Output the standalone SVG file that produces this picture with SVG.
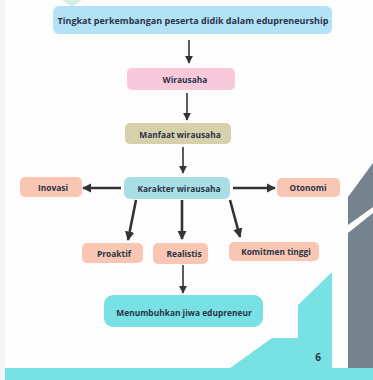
<svg xmlns="http://www.w3.org/2000/svg" width="373" height="380" viewBox="0 0 373 380">
  <style>
    .lbl { font-family: "Open Sans", "Liberation Sans", sans-serif; font-weight: 700; fill: #2b3347; text-anchor: middle; dominant-baseline: central; font-size: 8.4px; }
    .thin { stroke: #333; stroke-width: 1.6; fill: none; }
    .thick { stroke: #333; stroke-width: 2.6; fill: none; }
    .salmon { fill: #f8c6b2; }
  </style>
  <defs>
    <marker id="ah" viewBox="0 0 10 10" refX="9" refY="5" markerWidth="5" markerHeight="5" orient="auto" markerUnits="strokeWidth">
      <path d="M0,0 L10,5 L0,10 Z" fill="#333"/>
    </marker>
    <marker id="ahs" viewBox="0 0 10 10" refX="9" refY="5" markerWidth="3.6" markerHeight="3.6" orient="auto" markerUnits="strokeWidth">
      <path d="M0,0 L10,5 L0,10 Z" fill="#333"/>
    </marker>
  </defs>

  <!-- page background -->
  <rect x="0" y="0" width="373" height="380" fill="#fdfdfd"/>
  <rect x="0" y="0" width="5" height="380" fill="#f4f4f6"/>
  <!-- faint ornament top left -->
  <path d="M62,0 L82,0 L72,7 Z" fill="#d8efe9"/>

  <!-- slide decoration -->
  <polygon points="230,368 272,338 298,338 298,305 332,272 332,368" fill="#78e1e3"/>
  <polygon points="348,197 373,163 373,207 348,225" fill="#76838f"/>
  <polygon points="348,233 373,213 373,368 348,368" fill="#76838f"/>
  <rect x="5" y="368" width="368" height="12" fill="#78e1e3"/>
  <text x="318" y="361" font-family="'Open Sans','Liberation Sans',sans-serif" font-weight="700" font-size="10" fill="#2b3347" text-anchor="middle">6</text>

  <!-- connectors -->
  <g id="connectors">
    <line class="thin" x1="189" y1="40" x2="189" y2="63" marker-end="url(#ah)"/>
    <line class="thin" x1="187" y1="93" x2="187" y2="120" marker-end="url(#ah)"/>
    <line class="thin" x1="183" y1="147" x2="183" y2="173" marker-end="url(#ah)"/>
    <line class="thick" x1="121" y1="188" x2="83" y2="188" marker-end="url(#ahs)"/>
    <line class="thick" x1="233" y1="188" x2="275" y2="188" marker-end="url(#ahs)"/>
    <line class="thick" x1="136" y1="200" x2="128" y2="240" marker-end="url(#ahs)"/>
    <line class="thick" x1="182" y1="200" x2="182" y2="239" marker-end="url(#ahs)"/>
    <line class="thick" x1="230" y1="200" x2="240" y2="237" marker-end="url(#ahs)"/>
    <line class="thin" x1="183" y1="265" x2="183" y2="293" marker-end="url(#ah)"/>
  </g>

  <g id="n-tingkat">
    <rect x="53" y="6" width="279" height="28" rx="6" fill="#b3e1f6"/>
    <text class="lbl" x="193" y="20" style="font-size:9px">Tingkat perkembangan peserta didik dalam edupreneurship</text>
  </g>
  <g id="n-wirausaha">
    <rect x="127" y="68" width="108" height="22" rx="5" fill="#f8c9da"/>
    <text class="lbl" x="185" y="79">Wirausaha</text>
  </g>
  <g id="n-manfaat">
    <rect x="125" y="123" width="106" height="21" rx="5" fill="#d7d1ab"/>
    <text class="lbl" x="180" y="134">Manfaat wirausaha</text>
  </g>
  <g id="n-karakter">
    <rect x="124" y="177" width="106" height="22" rx="6" fill="#a9dfe4"/>
    <text class="lbl" x="179" y="188">Karakter wirausaha</text>
  </g>
  <g id="n-inovasi">
    <rect class="salmon" x="20" y="177" width="62" height="20" rx="5"/>
    <text class="lbl" x="53" y="187">Inovasi</text>
  </g>
  <g id="n-otonomi">
    <rect class="salmon" x="277" y="178" width="63" height="19" rx="5"/>
    <text class="lbl" x="308" y="187.5">Otonomi</text>
  </g>
  <g id="n-proaktif">
    <rect class="salmon" x="82" y="243" width="61" height="20" rx="5"/>
    <text class="lbl" x="114" y="253">Proaktif</text>
  </g>
  <g id="n-realistis">
    <rect class="salmon" x="153" y="243" width="55" height="21" rx="5"/>
    <text class="lbl" x="184" y="253.5">Realistis</text>
  </g>
  <g id="n-komitmen">
    <rect class="salmon" x="229" y="242" width="90" height="19" rx="5"/>
    <text class="lbl" x="276" y="251.5">Komitmen tinggi</text>
  </g>
  <g id="n-menumbuhkan">
    <rect x="104" y="295" width="159" height="32" rx="9" fill="#78e1e3"/>
    <text class="lbl" x="184" y="312">Menumbuhkan jiwa edupreneur</text>
  </g>
</svg>
